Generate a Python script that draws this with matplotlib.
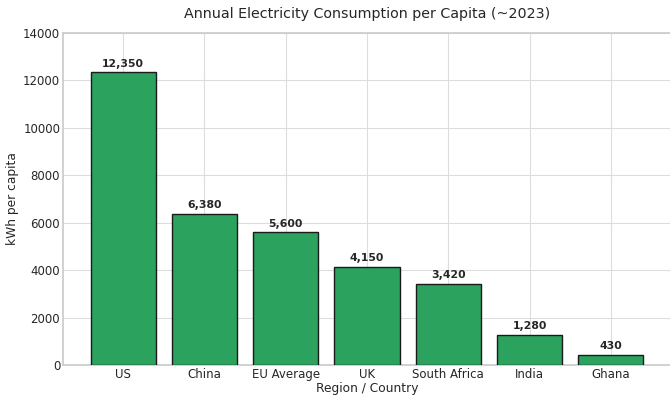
import matplotlib
matplotlib.use("Agg")
import matplotlib.pyplot as plt
import seaborn as sns

regions = ["US", "China", "EU Average", "UK", "South Africa", "India", "Ghana"]
kwh_per_capita = [12350, 6380, 5600, 4150, 3420, 1280, 430]
y_ticks = [0, 2000, 4000, 6000, 8000, 10000, 12000, 14000]

sns.set_theme(style="whitegrid")
plt.rcParams['font.family'] = ['DejaVu Sans']

fig = plt.figure(figsize=(6.70, 3.96), dpi=100)
ax = fig.add_axes([63 / 670, 31 / 396, 608 / 670, 332 / 396])

x = range(len(regions))
bars = ax.bar(x, kwh_per_capita, width=0.8, color="#2ca25f",
              edgecolor="#1a1a1a", linewidth=1.0, zorder=3)

for xi, v in zip(x, kwh_per_capita):
    ax.annotate(f"{v:,}", (xi, v), xytext=(0, 2.5), textcoords="offset points",
                ha="center", va="bottom", fontsize=7.8, fontweight="bold",
                color="#262626")

ax.set_xticks(list(x))
ax.set_xticklabels(regions, fontsize=8.5)
ax.set_yticks(y_ticks)
ax.set_yticklabels([str(t) for t in y_ticks], fontsize=8.5)
ax.set_ylim(0, 14000)
ax.set_xlim(-0.74, 6.74)
ax.tick_params(axis="x", length=0, pad=2)
ax.tick_params(axis="y", length=0, pad=2)

ax.set_title("Annual Electricity Consumption per Capita (~2023)", fontsize=10.3, pad=11)
ax.set_xlabel("Region / Country", fontsize=8.8, labelpad=1)
ax.set_ylabel("kWh per capita", fontsize=8.8, labelpad=3)
ax.grid(True, color="#dddddd", linewidth=0.8, zorder=0)
for s in ax.spines.values():
    s.set_color("#cccccc")
ax.spines["right"].set_visible(False)

fig.savefig("out.png", dpi=100)
